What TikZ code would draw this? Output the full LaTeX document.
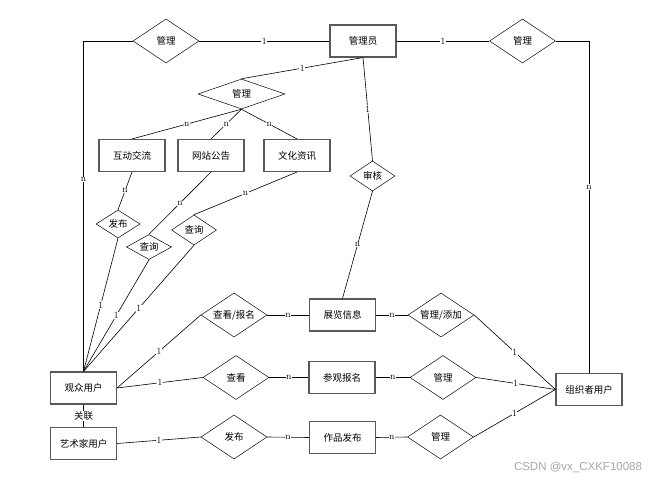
\documentclass[tikz,border=0pt]{standalone}
\usepackage{fontspec}
\newfontfamily\cjk{Noto Sans CJK SC}
\newfontfamily\wmfont{Liberation Sans}
\usetikzlibrary{shapes.geometric}
\tikzset{
  ent/.style={draw=black!65, line width=1.1pt, rectangle, minimum width=66pt, minimum height=32pt, inner sep=0pt, font=\cjk\fontsize{9.5}{11}\selectfont},
  rel/.style={draw=black, line width=0.5pt, diamond, aspect=1.5, inner sep=0pt, minimum width=66pt, minimum height=44pt, font=\cjk\fontsize{9.5}{11}\selectfont},
  conn/.style={draw=black, line width=0.6pt},
  lab/.style={fill=white, inner sep=0.5pt, font=\fontsize{9.5}{10}\selectfont},
}
\begin{document}
\begin{tikzpicture}[x=1pt,y=-1pt]
\useasboundingbox (0,0) rectangle (654,481);
% entities
\node[ent] (admin) at (363,41) {管理员};
\node[ent] (hudong) at (132,155.5) {互动交流};
\node[ent] (gonggao) at (211,155.5) {网站公告};
\node[ent] (zixun) at (297,155.5) {文化资讯};
\node[ent] (zhanlan) at (342.5,315) {展览信息};
\node[ent] (canguan) at (342,377.5) {参观报名};
\node[ent] (zuopin) at (342.5,437.5) {作品发布};
\node[ent] (guanzhong) at (83.5,388) {观众用户};
\node[ent] (yishujia) at (83.5,443.5) {艺术家用户};
\node[ent] (zuzhi) at (589,389.5) {组织者用户};
% relations
\node[rel] (gl1) at (166,41) {管理};
\node[rel] (gl2) at (522.5,41) {管理};
\node[rel, minimum width=87pt, minimum height=30pt] (gl3) at (241.5,94) {管理};
\node[rel, minimum width=45pt, minimum height=30pt] (shenhe) at (372.5,176) {审核};
\node[rel, minimum width=44pt, minimum height=28pt] (fabu1) at (118,224) {发布};
\node[rel, minimum width=45pt, minimum height=25pt] (cx1) at (149,247) {查询};
\node[rel, minimum width=45pt, minimum height=30pt] (cx2) at (194,230) {查询};
\node[rel] (ckbm) at (234,315) {查看/报名};
\node[rel] (ck) at (236,377.5) {查看};
\node[rel] (fabu2) at (234,437) {发布};
\node[rel] (gltj) at (441,315) {管理/添加};
\node[rel] (gl4) at (443,377.5) {管理};
\node[rel] (gl5) at (440.5,437) {管理};
% connectors
\draw[conn] (gl1.west) -| node[lab, pos=0.71] {n} (guanzhong.north);
\draw[conn] (gl2.east) -| node[lab, pos=0.72] {n} (zuzhi.north);
\draw[conn] (gl1.east) -- node[lab] {1} (admin.west);
\draw[conn] (admin.east) -- node[lab] {1} (gl2.west);
\draw[conn] (admin.south) -- node[lab] {1} (gl3.north);
\draw[conn] (admin.south) -- node[lab] {1} (shenhe.north);
\draw[conn] (gl3.south) -- node[lab] {n} (hudong.north);
\draw[conn] (gl3.south) -- node[lab] {n} (gonggao.north);
\draw[conn] (gl3.south) -- node[lab] {n} (zixun.north);
\draw[conn] (shenhe.south) -- node[lab] {n} (zhanlan.north);
\draw[conn] (hudong.south) -- node[lab] {n} (fabu1.north);
\draw[conn] (gonggao.south) -- node[lab] {n} (cx1.north);
\draw[conn] (zixun.south) -- node[lab] {n} (cx2.north);
\draw[conn] (fabu1.south) -- node[lab] {1} (guanzhong.north);
\draw[conn] (cx1.south) -- node[lab] {1} (guanzhong.north);
\draw[conn] (cx2.south) -- node[lab] {1} (guanzhong.north);
\draw[conn] (guanzhong.east) -- node[lab] {1} (ckbm.west);
\draw[conn] (guanzhong.east) -- node[lab] {1} (ck.west);
\draw[conn] (yishujia.east) -- node[lab] {1} (fabu2.west);
\draw[conn] (guanzhong.south) -- node[fill=white, inner sep=0.6pt, font=\cjk\fontsize{9.5}{11}\selectfont] {关联} (yishujia.north);
\draw[conn] (ckbm.east) -- node[lab] {n} (zhanlan.west);
\draw[conn] (ck.east) -- node[lab] {n} (canguan.west);
\draw[conn] (fabu2.east) -- node[lab] {n} (zuopin.west);
\draw[conn] (zhanlan.east) -- node[lab] {n} (gltj.west);
\draw[conn] (canguan.east) -- node[lab] {n} (gl4.west);
\draw[conn] (zuopin.east) -- node[lab] {n} (gl5.west);
\draw[conn] (gltj.east) -- node[lab] {1} (zuzhi.west);
\draw[conn] (gl4.east) -- node[lab] {1} (zuzhi.west);
\draw[conn] (gl5.east) -- node[lab] {1} (zuzhi.west);
% watermark
\node[font=\wmfont\fontsize{11.5}{13}\selectfont, text=black!35, inner sep=0pt] (wm) at (578,467) {CSDN @vx\_CXKF10088};
\end{tikzpicture}
\end{document}
